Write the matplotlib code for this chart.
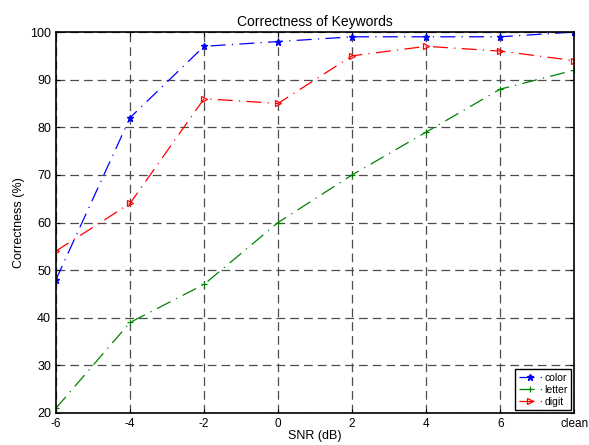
import matplotlib
matplotlib.use("Agg")
import matplotlib.pyplot as plt

plt.rcParams["font.family"] = ["Liberation Sans", "DejaVu Sans"]

snr_pos = [-6, -4, -2, 0, 2, 4, 6, 8]
snr_labels = ["-6", "-4", "-2", "0", "2", "4", "6", "clean"]
color_acc = [48, 82, 97, 98, 99, 99, 99, 100]
letter_acc = [21, 39, 47, 60, 70, 79, 88, 92]
digit_acc = [54, 64, 86, 85, 95, 97, 96, 94]

fig = plt.figure(figsize=(5.89, 4.45), dpi=100)
ax = fig.add_axes([0.095, 0.072, 0.880, 0.856])

ls = (0, (12, 5, 1, 5))
ax.plot(snr_pos, color_acc, color="blue", linestyle=ls, lw=0.9, marker="*",
        ms=5, label="color")
ax.plot(snr_pos, letter_acc, color="green", linestyle=ls, lw=0.9, marker="+",
        ms=4, mew=0.8, label="letter")
ax.plot(snr_pos, digit_acc, color="red", linestyle=ls, lw=0.9, marker=">",
        ms=4.5, mfc="none", mew=0.9, label="digit")

ax.set_xlim(-6, 8)
ax.set_ylim(20, 100)
ax.set_xticks(snr_pos)
ax.set_xticklabels(snr_labels)
ax.set_yticks(range(20, 101, 10))
ax.tick_params(direction="in", labelsize=9, length=3, width=0.8, top=True, right=True)
ax.tick_params(axis="x", labelsize=8.5)
ax.grid(True, color="#4d4d4d", linestyle=(0, (7, 4)), linewidth=0.9)
for s in ax.spines.values():
    s.set_linewidth(1.2)

ax.set_xlabel("SNR (dB)", fontsize=9, labelpad=0)
ax.set_ylabel("Correctness (%)", fontsize=9)
ax.set_title("Correctness of Keywords", fontsize=10, pad=4)

leg = ax.legend(loc="lower right", fontsize=7.5, fancybox=False, framealpha=1,
                edgecolor="black", handlelength=2.2, borderpad=0.3,
                labelspacing=0.2, handletextpad=0.3, borderaxespad=0.3)
leg.get_frame().set_linewidth(1.0)

fig.savefig("out.png", dpi=100)
